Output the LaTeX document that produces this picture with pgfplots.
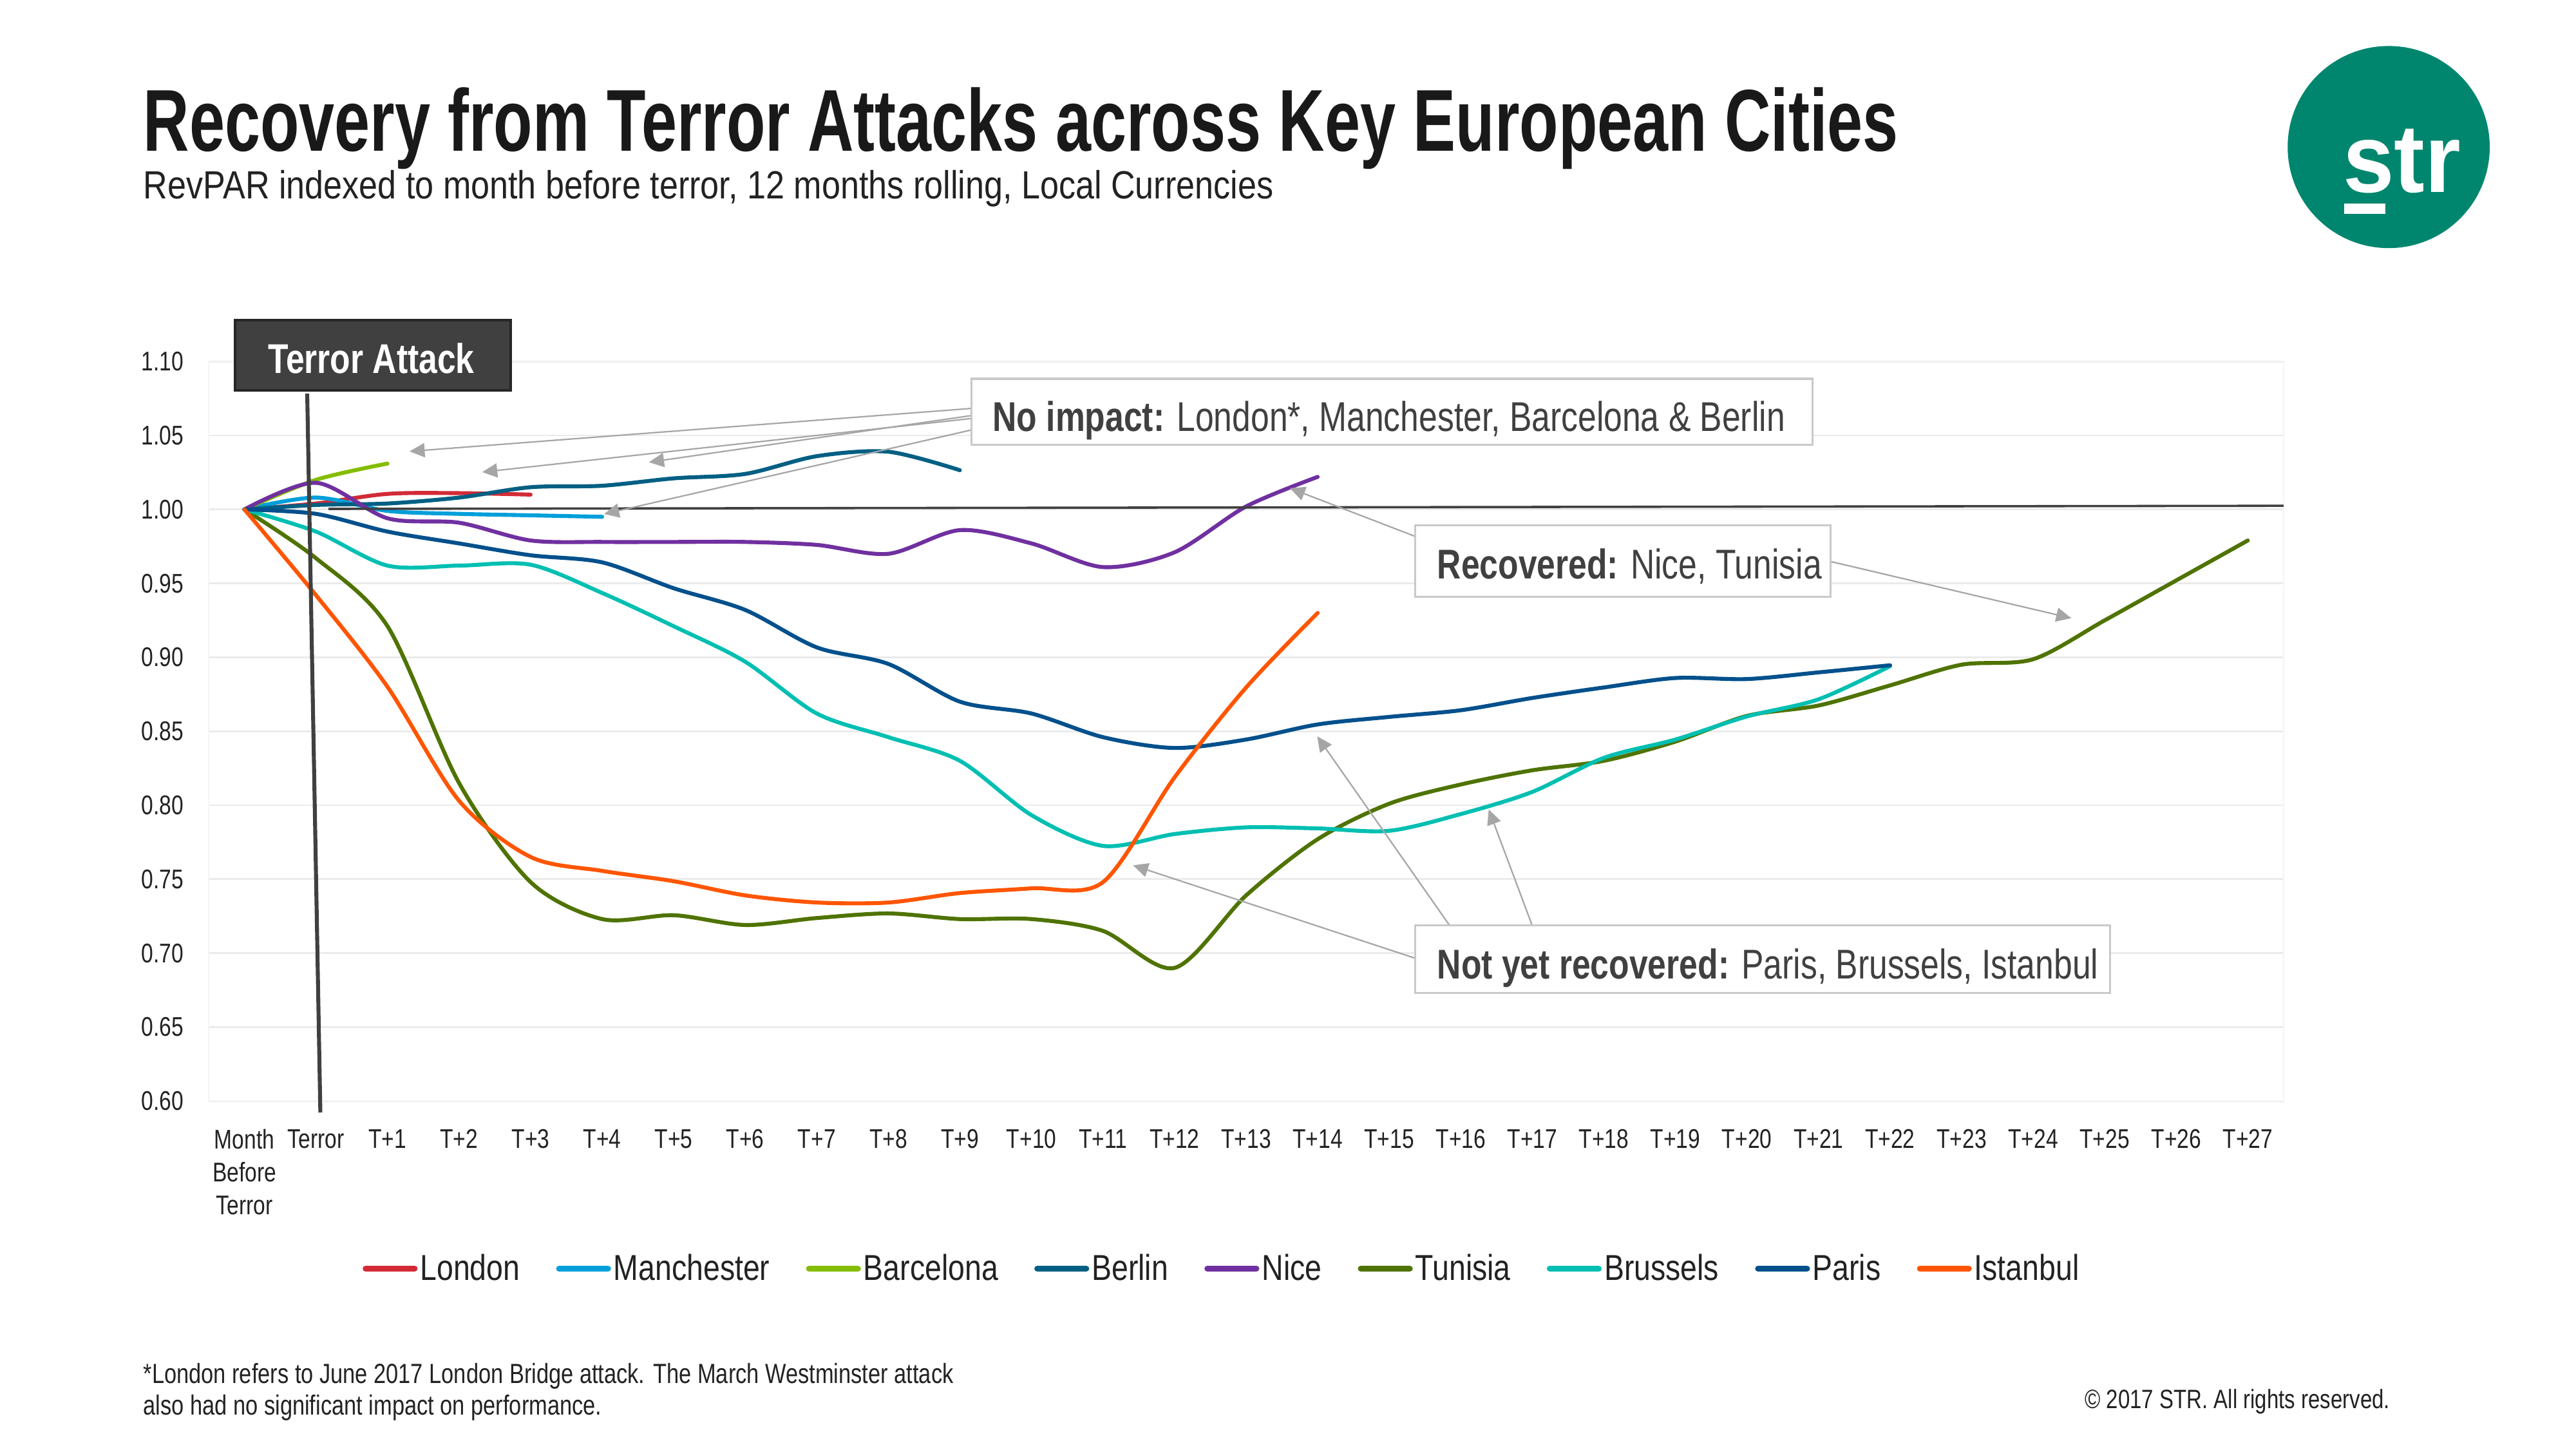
\documentclass[border=0pt]{standalone}
\usepackage{fontspec}
\setmainfont{Liberation Sans}[FakeStretch=0.8]
\newfontfamily\titlefont{Liberation Sans}[FakeStretch=0.726]
\newfontfamily\subfont{Liberation Sans}[FakeStretch=0.855]
\newfontfamily\legfont{Liberation Sans}[FakeStretch=0.83]
\newfontfamily\logofont{Liberation Sans}[FakeStretch=0.95]
\usepackage{pgfplots}
\pgfplotsset{compat=1.18}
\usetikzlibrary{arrows.meta}

\definecolor{london}{HTML}{D22B36}
\definecolor{manchester}{HTML}{009FDA}
\definecolor{barcelona}{HTML}{84BD00}
\definecolor{berlin}{HTML}{005F83}
\definecolor{nice}{HTML}{7030A0}
\definecolor{tunisia}{HTML}{4F7300}
\definecolor{brussels}{HTML}{00BFB2}
\definecolor{paris}{HTML}{00508C}
\definecolor{istanbul}{HTML}{FF5500}
\definecolor{dk}{HTML}{404040}
\definecolor{dkb}{HTML}{262626}
\definecolor{arrowgray}{HTML}{A6A6A6}
\definecolor{boxgray}{HTML}{C9C9C9}
\definecolor{gridgray}{HTML}{EBEBEB}
\definecolor{txt}{HTML}{222222}
\definecolor{logoteal}{HTML}{00866E}

\begin{document}
\begin{tikzpicture}
\useasboundingbox (0,0) rectangle (392mm,220.5mm);
\begin{axis}[
  at={(31.75mm,53mm)}, anchor=south west,
  scale only axis, width=315.75mm, height=112.5mm,
  xmin=-0.5, xmax=28.5, ymin=0.6, ymax=1.1,
  ytick={0.60,0.65,0.70,0.75,0.80,0.85,0.90,0.95,1.00,1.05,1.10},
  xtick={0,...,28},
  xticklabels={{Month\\Before\\Terror},Terror,T+1,T+2,T+3,T+4,T+5,T+6,T+7,T+8,T+9,T+10,T+11,T+12,T+13,T+14,T+15,T+16,T+17,T+18,T+19,T+20,T+21,T+22,T+23,T+24,T+25,T+26,T+27},
  /pgf/number format/assume math mode=true,
  yticklabel style={/pgf/number format/fixed, /pgf/number format/fixed zerofill, /pgf/number format/precision=2, inner sep=0pt, xshift=-3.75mm, text=txt, font=\fontsize{11.7}{14}\selectfont},
  xticklabel style={align=center, inner sep=0pt, anchor=north, yshift=-4.25mm, text=txt, font=\fontsize{11.7}{14.2}\selectfont},
  major tick length=0pt,
  ymajorgrids, grid style={draw=gridgray, line width=0.29mm},
  axis line style={draw=gridgray!50},
  every axis plot/.append style={line width=0.6mm, smooth, line join=round, line cap=round},
  legend style={at={(0.4885,-0.2267)}, anchor=center, draw=none, fill=none,
    font=\legfont\fontsize{15.6}{18}\selectfont, text=txt,
    nodes={inner sep=0.4mm},
    /tikz/every even column/.append style={column sep=5.1mm}},
  legend columns=-1,
  legend image code/.code={\draw[#1, line width=0.9mm, line cap=round] (0.45mm,0mm) -- (7.9mm,0mm);},
]
\addplot[london] coordinates {(0,1.000)(1,1.004)(2,1.0105)(3,1.011)(4,1.010)};
\addlegendentry{London}
\addplot[manchester] coordinates {(0,1.000)(1,1.008)(2,0.999)(3,0.997)(4,0.996)(5,0.995)};
\addlegendentry{Manchester}
\addplot[barcelona] coordinates {(0,1.000)(1,1.020)(2,1.031)};
\addlegendentry{Barcelona}
\addplot[berlin] coordinates {(0,1.000)(1,1.003)(2,1.004)(3,1.008)(4,1.015)(5,1.016)(6,1.021)(7,1.024)(8,1.036)(9,1.039)(10,1.0265)};
\addlegendentry{Berlin}
\addplot[nice] coordinates {(0,1.000)(1,1.018)(2,0.994)(3,0.991)(4,0.979)(5,0.978)(6,0.978)(7,0.978)(8,0.976)(9,0.970)(10,0.986)(11,0.977)(12,0.961)(13,0.971)(14,1.002)(15,1.022)};
\addlegendentry{Nice}
\addplot[tunisia] coordinates {(0,1.000)(1,0.967)(2,0.921)(3,0.815)(4,0.748)(5,0.723)(6,0.7256)(7,0.719)(8,0.7237)(9,0.7268)(10,0.723)(11,0.723)(12,0.715)(13,0.690)(14,0.739)(15,0.777)(16,0.801)(17,0.814)(18,0.8236)(19,0.830)(20,0.843)(21,0.8604)(22,0.8674)(23,0.881)(24,0.895)(25,0.8987)(26,0.925)(27,0.952)(28,0.979)};
\addlegendentry{Tunisia}
\addplot[brussels] coordinates {(0,1.000)(1,0.985)(2,0.962)(3,0.962)(4,0.9626)(5,0.9435)(6,0.921)(7,0.897)(8,0.862)(9,0.846)(10,0.830)(11,0.7933)(12,0.7725)(13,0.7805)(14,0.785)(15,0.7843)(16,0.7827)(17,0.794)(18,0.809)(19,0.832)(20,0.8444)(21,0.860)(22,0.8716)(23,0.894)};
\addlegendentry{Brussels}
\addplot[paris] coordinates {(0,1.000)(1,0.997)(2,0.985)(3,0.977)(4,0.969)(5,0.9642)(6,0.9467)(7,0.932)(8,0.9067)(9,0.8955)(10,0.870)(11,0.862)(12,0.846)(13,0.8387)(14,0.8444)(15,0.8546)(16,0.8597)(17,0.8642)(18,0.8725)(19,0.8796)(20,0.886)(21,0.8853)(22,0.8898)(23,0.8946)};
\addlegendentry{Paris}
\addplot[istanbul] coordinates {(0,1.000)(1,0.942)(2,0.880)(3,0.803)(4,0.765)(5,0.7556)(6,0.7486)(7,0.739)(8,0.7342)(9,0.7342)(10,0.7406)(11,0.7438)(12,0.748)(13,0.8188)(14,0.8796)(15,0.930)};
\addlegendentry{Istanbul}
\end{axis}

\begin{scope}[shift={(0mm,220.5mm)}, x=0.25mm, y=-0.25mm]
% reference line and terror line
\draw[dk, line width=0.35mm] (200,309.7) -- (1390,307.8);
\draw[dk, line width=0.6mm] (187,239.6) -- (195,677);
% terror box
\draw[fill=dk, draw=dkb, line width=0.4mm] (143,195) rectangle (311,237.5);
\node[white, inner sep=0, font=\bfseries\fontsize{18}{21}\selectfont] at (226,218) {Terror Attack};
% arrows
\tikzset{ann/.style={arrowgray, line width=0.22mm, -{Triangle[length=2.3mm,width=2.15mm]}}}
\draw[ann] (592,248.5) -- (249.3,274.7);
\draw[ann] (592,254.6) -- (293.5,287.3);
\draw[ann] (592,252.8) -- (395,281.3);
\draw[ann] (592,261.5) -- (367.7,312.8);
\draw[ann] (861.6,326.5) -- (785.2,297.1);
\draw[ann] (1114.2,341.7) -- (1260.8,376.2);
\draw[ann] (861.6,583.2) -- (689.7,526.6);
\draw[ann] (882.3,563.1) -- (801.8,448.1);
\draw[ann] (932.6,563.1) -- (906.2,492.6);
% boxes
\draw[boxgray, line width=0.3mm, fill=white] (591.3,230.5) rectangle (1103.3,270.7);
\node[anchor=base west, inner sep=0, text=dk, font=\fontsize{18}{21}\selectfont] at (604,262.6) {\textbf{No impact:} London*, Manchester, Barcelona \& Berlin};
\draw[boxgray, line width=0.3mm, fill=white] (861.6,319.6) rectangle (1114.2,363.3);
\node[anchor=base west, inner sep=0, text=dk, font=\fontsize{18}{21}\selectfont] at (874.6,352.3) {\textbf{Recovered:} Nice, Tunisia};
\draw[boxgray, line width=0.3mm, fill=white] (861.6,563.1) rectangle (1284.4,604.2);
\node[anchor=base west, inner sep=0, text=dk, font=\fontsize{18}{21}\selectfont] at (874.6,595.6) {\textbf{Not yet recovered:} Paris, Brussels, Istanbul};
% titles
\node[anchor=base west, inner sep=0, text=black!90] at (87,92) {\titlefont\bfseries\fontsize{38}{44}\selectfont Recovery from Terror Attacks across Key European Cities};
\node[anchor=base west, inner sep=0, text=txt] at (87,121) {\subfont\fontsize{17}{20}\selectfont RevPAR indexed to month before terror, 12 months rolling, Local Currencies};
% logo
\fill[logoteal] (1454,89.5) circle (61.5);
\node[white, inner sep=0, anchor=base] at (1462,117) {\logofont\bfseries\fontsize{42}{48}\selectfont str};
\fill[white] (1427,124) rectangle (1452,130);
% footnotes
\node[anchor=base west, inner sep=0, text=txt, font=\fontsize{12}{14}\selectfont] at (87,842) {*London refers to June 2017 London Bridge attack. The March Westminster attack};
\node[anchor=base west, inner sep=0, text=txt, font=\fontsize{12}{14}\selectfont] at (87,861) {also had no significant impact on performance.};
\node[anchor=base east, inner sep=0, text=txt, font=\fontsize{11.5}{14}\selectfont] at (1455,857) {© 2017 STR. All rights reserved.};
\end{scope}
\end{tikzpicture}
\end{document}
